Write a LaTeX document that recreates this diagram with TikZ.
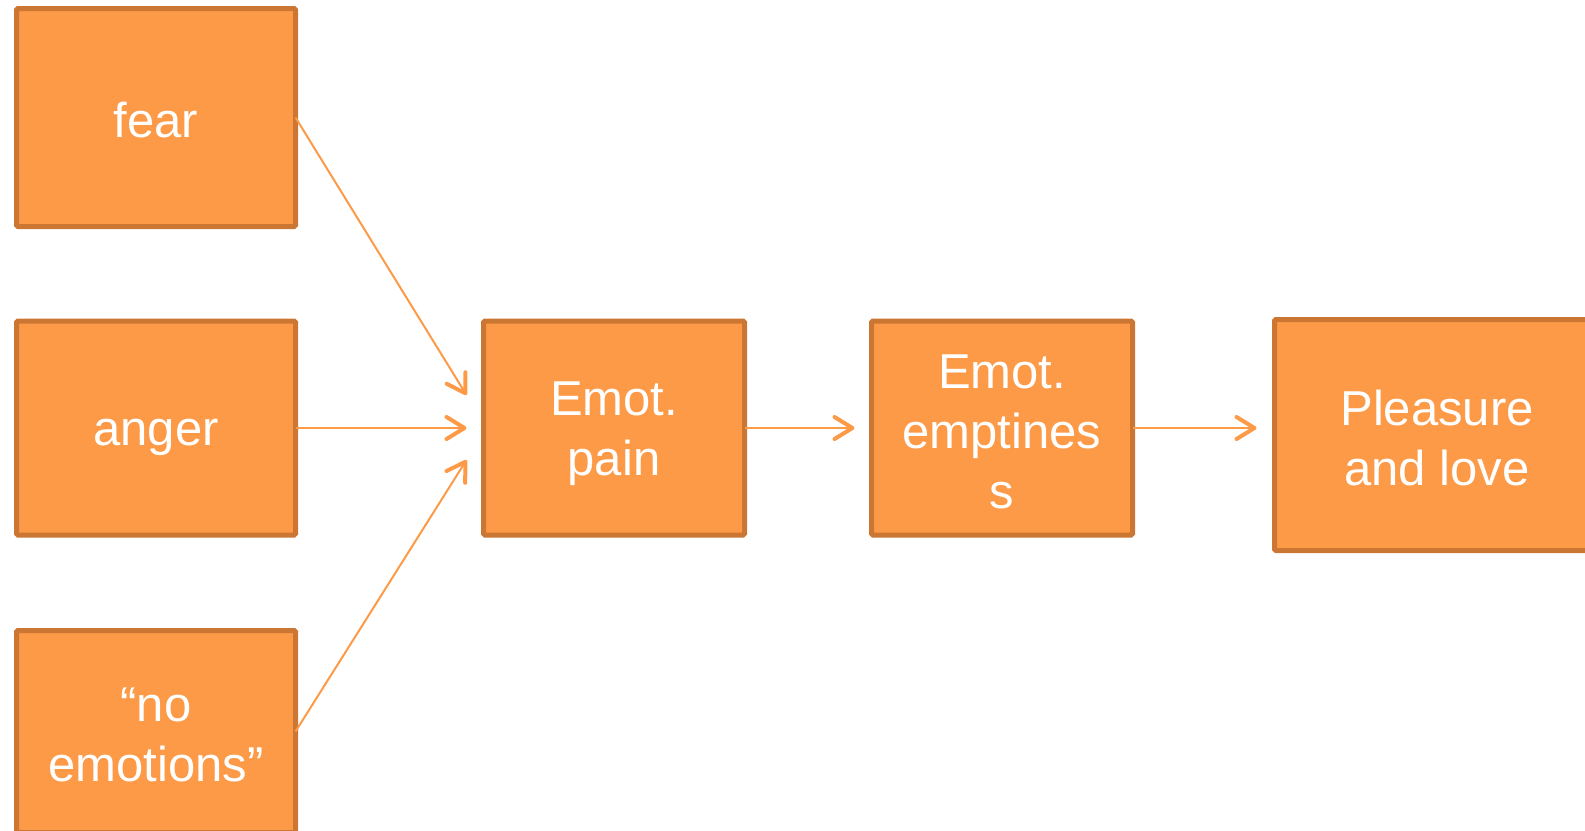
\documentclass[tikz,border=0pt]{standalone}
\usepackage{fontspec}
\setmainfont{Liberation Sans}
\usetikzlibrary{arrows.meta}
\definecolor{boxfill}{HTML}{FD9A47}
\definecolor{boxline}{HTML}{CB7733}
\newcommand\emostrut{\rule[-6pt]{0pt}{52pt}}
\tikzset{
    emobox/.style={draw=boxline, fill=boxfill, line width=5pt, rounded corners=1.5pt,
        text=white, align=center, inner sep=0pt, outer sep=0pt,
        minimum width=279pt, minimum height=214pt,
        font=\fontsize{49}{60}\selectfont,
        execute at end node=\emostrut},
    emoarrow/.style={draw=boxfill, line width=2pt,
        -{Straight Barb[length=18pt,width=22pt,line width=4pt,round]}}
}
\begin{document}
\begin{tikzpicture}[x=1pt,y=-1pt]
        \useasboundingbox (0,0) rectangle (1585,830);
        %% Sources
        \node[emobox, minimum height=218pt] (fear) at (156,117.5) {\emostrut fear};
        \node[emobox] (anger) at (156,428) {\emostrut anger};
        \node[emobox, minimum height=202pt] (noemo) at (156,731.5) {\emostrut ``no\\emotions''};
        %% Chain
        \node[emobox, minimum width=261pt] (pain) at (614,428) {\emostrut Emot.\\pain};
        \node[emobox, minimum width=261pt] (empty) at (1002,428) {\emostrut Emot.\\emptines\\s};
        \node[emobox, minimum width=325pt, minimum height=231pt] (pleasure) at (1437,435) {\emostrut Pleasure\\and love};
        %% Arrows
        \draw[emoarrow] (fear.east) -- ([xshift=-17pt,yshift=33pt]pain.west);
        \draw[emoarrow] (anger.east) -- ([xshift=-17pt]pain.west);
        \draw[emoarrow] (noemo.east) -- ([xshift=-17pt,yshift=-32pt]pain.west);
        \draw[emoarrow] (pain.east) -- ([xshift=-17pt]empty.west);
        \draw[emoarrow] (empty.east) -- ([xshift=-18pt,yshift=7pt]pleasure.west);
    \end{tikzpicture}
\end{document}
